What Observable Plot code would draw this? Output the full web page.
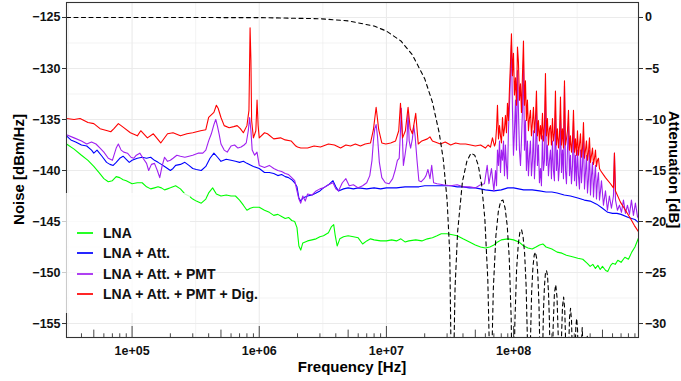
<!DOCTYPE html>
<html>
<head>
<meta charset="utf-8">
<script src="https://cdn.jsdelivr.net/npm/d3@7"></script>
<script src="https://cdn.jsdelivr.net/npm/@observablehq/plot@0.6"></script>
<style>
  body { margin: 0; background: #fff; }
  #chart { position: relative; width: 681px; height: 381px; font-family: "Liberation Sans", Arial, sans-serif; }
  #chart svg { position: absolute; left: 0; top: 0; }
  .legend-bg { position: absolute; left: 62px; top: 193px; width: 128px; height: 120px; background: rgba(255,255,255,0.75); }
  .legend { position: absolute; left: 62px; top: 193px; }
  .legend .row { position: absolute; left: 15px; height: 20px; line-height: 20px; font-size: 14px; font-weight: bold; color: #111; white-space: nowrap; }
  .legend .key { position: absolute; left: 0; top: 9px; width: 16px; height: 2px; opacity: 0.85; }
  .legend .lab { position: absolute; left: 26px; top: 0; }
</style>
</head>
<body>
<div id="chart"></div>
<script>
// Noise spectral density of the readout chain, [frequency Hz, dBm/Hz]
const lna = [[3.05e4,-137.4],[3.5e4,-137.9],[4e4,-138.5],[4.5e4,-139.0],[5e4,-139.6],[5.5e4,-140.2],[6e4,-140.8],[6.5e4,-141.1],[7e4,-141.0],[7.5e4,-140.6],[8e4,-140.7],[8.5e4,-140.9],[9e4,-141.0],[1e5,-141.3],[1.1e5,-141.2],[1.2e5,-141.2],[1.3e5,-141.6],[1.4e5,-141.8],[1.5e5,-141.7],[1.6e5,-141.6],[1.7e5,-141.7],[1.8e5,-141.9],[1.9e5,-141.8],[2e5,-141.7],[2.2e5,-141.5],[2.4e5,-141.8],[2.6e5,-142.3],[2.8e5,-142.5],[3e5,-142.8],[3.2e5,-143.0],[3.5e5,-143.2],[3.8e5,-142.8],[4e5,-142.2],[4.3e5,-141.7],[4.6e5,-142.3],[5e5,-142.5],[5.5e5,-142.4],[6e5,-142.5],[6.5e5,-142.5],[7e5,-142.9],[7.5e5,-143.4],[8e5,-143.9],[8.5e5,-143.7],[9e5,-143.6],[1e6,-143.6],[1.1e6,-143.9],[1.2e6,-144.1],[1.3e6,-144.4],[1.4e6,-144.3],[1.5e6,-144.5],[1.6e6,-144.7],[1.7e6,-144.6],[1.8e6,-144.9],[1.9e6,-145.0],[1.98e6,-145.6],[2.05e6,-147.4],[2.12e6,-147.8],[2.2e6,-147.1],[2.4e6,-146.9],[2.6e6,-146.8],[2.8e6,-146.7],[3e6,-146.5],[3.2e6,-146.4],[3.5e6,-146.1],[3.7e6,-145.5],[3.85e6,-145.3],[3.95e6,-146.3],[4.1e6,-147.4],[4.3e6,-146.7],[4.6e6,-146.5],[5e6,-146.4],[5.5e6,-146.5],[6e6,-146.6],[6.5e6,-147.2],[7e6,-146.9],[7.5e6,-146.7],[8e6,-146.8],[9e6,-146.9],[1e7,-146.9],[1.1e7,-146.8],[1.2e7,-146.9],[1.3e7,-146.7],[1.4e7,-147.0],[1.5e7,-146.9],[1.7e7,-146.8],[1.9e7,-146.9],[2.1e7,-146.7],[2.3e7,-146.6],[2.5e7,-146.4],[2.7e7,-146.2],[3e7,-146.2],[3.3e7,-146.3],[3.6e7,-146.4],[4e7,-146.7],[4.5e7,-147.0],[5e7,-147.3],[5.5e7,-147.5],[6e7,-147.6],[6.5e7,-147.5],[7e7,-147.3],[7.5e7,-147.0],[8e7,-146.8],[9e7,-146.7],[1e8,-146.8],[1.1e8,-147.0],[1.2e8,-147.4],[1.3e8,-147.6],[1.4e8,-147.7],[1.5e8,-147.5],[1.6e8,-147.3],[1.7e8,-147.2],[1.8e8,-147.5],[2e8,-147.7],[2.2e8,-148.0],[2.4e8,-148.1],[2.6e8,-148.3],[2.8e8,-148.4],[3e8,-148.5],[3.2e8,-148.6],[3.5e8,-148.7],[3.8e8,-149.1],[4e8,-149.4],[4.2e8,-149.2],[4.4e8,-149.6],[4.6e8,-149.3],[4.8e8,-149.7],[5e8,-149.4],[5.3e8,-149.8],[5.5e8,-149.9],[5.8e8,-149.3],[6e8,-149.1],[6.3e8,-149.2],[6.6e8,-148.8],[7e8,-149.0],[7.5e8,-148.5],[8e8,-148.7],[8.5e8,-148.0],[9e8,-147.5],[9.6e8,-146.6]];

const lnaAtt = [[3.05e4,-136.6],[3.3e4,-137.0],[3.6e4,-137.2],[4e4,-137.5],[4.4e4,-137.6],[4.8e4,-138.0],[5e4,-138.3],[5.3e4,-138.0],[5.8e4,-138.6],[6.3e4,-139.2],[6.7e4,-139.4],[7.1e4,-139.5],[7.5e4,-139.2],[8e4,-138.8],[8.5e4,-138.6],[9e4,-138.9],[9.5e4,-139.2],[1e5,-139.0],[1.1e5,-138.8],[1.2e5,-138.7],[1.3e5,-138.8],[1.4e5,-138.7],[1.5e5,-139.0],[1.6e5,-139.2],[1.7e5,-139.4],[1.8e5,-139.6],[1.9e5,-139.8],[2e5,-140.0],[2.1e5,-139.8],[2.2e5,-139.5],[2.4e5,-139.4],[2.6e5,-139.2],[2.8e5,-139.5],[3e5,-139.8],[3.2e5,-139.9],[3.5e5,-140.0],[3.8e5,-139.6],[4.1e5,-138.8],[4.4e5,-138.3],[4.7e5,-138.7],[5e5,-139.1],[5.5e5,-138.9],[6e5,-139.0],[6.5e5,-139.1],[7e5,-139.2],[7.5e5,-139.1],[8e5,-139.3],[9e5,-139.6],[1e6,-139.8],[1.1e6,-140.2],[1.2e6,-140.2],[1.3e6,-140.3],[1.4e6,-140.5],[1.5e6,-140.4],[1.6e6,-140.6],[1.7e6,-140.7],[1.8e6,-140.9],[1.9e6,-141.2],[1.98e6,-141.6],[2.05e6,-142.7],[2.12e6,-143.0],[2.2e6,-142.7],[2.4e6,-142.5],[2.6e6,-142.4],[2.8e6,-142.2],[3e6,-142.0],[3.2e6,-141.7],[3.5e6,-141.4],[3.8e6,-141.0],[4e6,-141.6],[4.2e6,-142.0],[4.6e6,-141.8],[5e6,-141.7],[5.5e6,-141.8],[6e6,-141.7],[7e6,-141.8],[8e6,-141.7],[9e6,-141.8],[1e7,-141.7],[1.2e7,-141.7],[1.4e7,-141.6],[1.6e7,-141.6],[1.8e7,-141.6],[2e7,-141.5],[2.4e7,-141.5],[2.8e7,-141.5],[3.2e7,-141.5],[3.6e7,-141.6],[4e7,-141.6],[4.5e7,-141.7],[5e7,-141.7],[6e7,-141.9],[7e7,-142.0],[8e7,-141.9],[9e7,-141.7],[1e8,-141.7],[1.2e8,-141.9],[1.4e8,-141.9],[1.6e8,-142.0],[1.8e8,-142.1],[2e8,-142.1],[2.2e8,-142.2],[2.5e8,-142.4],[2.8e8,-142.5],[3.2e8,-142.7],[3.6e8,-142.9],[4e8,-143.0],[4.5e8,-143.3],[5e8,-143.7],[5.5e8,-144.1],[6e8,-144.2],[6.5e8,-144.2],[7e8,-144.3],[8e8,-144.6],[9e8,-144.8],[9.6e8,-145.1]];

const lnaAttPmt = [[3.05e4,-136.5],[3.5e4,-136.8],[4e4,-137.1],[4.4e4,-137.4],[4.8e4,-137.2],[5.2e4,-137.4],[5.6e4,-137.8],[6e4,-138.2],[6.5e4,-138.8],[7e4,-139.0],[7.5e4,-137.8],[7.8e4,-137.4],[8.2e4,-138.0],[8.6e4,-138.2],[9.2e4,-138.3],[9.8e4,-138.7],[1.03e5,-138.8],[1.08e5,-138.5],[1.15e5,-138.3],[1.22e5,-138.8],[1.3e5,-139.3],[1.35e5,-140.0],[1.42e5,-139.4],[1.5e5,-139.3],[1.58e5,-140.0],[1.65e5,-140.7],[1.72e5,-139.6],[1.8e5,-138.7],[1.9e5,-139.1],[2e5,-139.0],[2.1e5,-138.8],[2.25e5,-138.5],[2.4e5,-138.6],[2.6e5,-138.7],[2.8e5,-138.6],[3e5,-138.5],[3.3e5,-138.3],[3.6e5,-138.3],[3.8e5,-138.0],[4e5,-137.1],[4.2e5,-136.4],[4.4e5,-135.5],[4.55e5,-135.0],[4.7e5,-135.7],[4.85e5,-136.5],[5e5,-137.4],[5.3e5,-138.0],[5.6e5,-138.2],[6e5,-137.6],[6.4e5,-137.5],[6.8e5,-137.8],[7.2e5,-137.7],[7.6e5,-137.5],[7.9e5,-137.3],[8.2e5,-136.1],[8.4e5,-134.8],[8.6e5,-136.1],[8.8e5,-138.0],[9.2e5,-138.5],[9.6e5,-138.2],[1e6,-139.5],[1.1e6,-139.7],[1.2e6,-139.5],[1.3e6,-139.8],[1.4e6,-140.0],[1.5e6,-140.1],[1.6e6,-140.3],[1.7e6,-140.4],[1.8e6,-140.7],[1.9e6,-141.0],[1.98e6,-142.0],[2.05e6,-142.8],[2.12e6,-143.2],[2.2e6,-142.5],[2.3e6,-143.0],[2.4e6,-142.3],[2.6e6,-142.4],[2.8e6,-142.0],[3e6,-141.8],[3.2e6,-141.7],[3.5e6,-141.4],[3.8e6,-141.2],[4e6,-141.8],[4.2e6,-142.0],[4.5e6,-141.2],[4.8e6,-140.8],[5.1e6,-141.5],[5.5e6,-141.4],[6e6,-141.7],[6.5e6,-141.5],[7e6,-141.2],[7.4e6,-140.5],[7.7e6,-139.0],[7.9e6,-137.1],[8.1e6,-135.9],[8.3e6,-135.5],[8.5e6,-136.6],[8.8e6,-139.2],[9.2e6,-140.7],[9.8e6,-141.2],[1.05e7,-141.3],[1.12e7,-140.8],[1.17e7,-140.0],[1.22e7,-139.0],[1.26e7,-138.8],[1.29e7,-136.1],[1.31e7,-133.9],[1.33e7,-136.1],[1.36e7,-139.5],[1.4e7,-138.5],[1.45e7,-137.1],[1.48e7,-134.3],[1.51e7,-137.1],[1.55e7,-137.8],[1.6e7,-136.9],[1.64e7,-135.6],[1.68e7,-136.6],[1.74e7,-139.0],[1.8e7,-141.0],[1.88e7,-141.1],[1.98e7,-140.8],[2.05e7,-140.5],[2.12e7,-139.9],[2.2e7,-140.8],[2.27e7,-139.5],[2.35e7,-141.2],[2.5e7,-141.3],[2.8e7,-141.4],[3.2e7,-141.5],[3.6e7,-141.4],[4e7,-141.6],[4.5e7,-141.6],[5e7,-141.7],[5.5e7,-141.4],[5.9e7,-141.3],[6.2e7,-139.5],[6.4e7,-141.3],[6.7e7,-139.8],[7e7,-142.0],
  [7.21e7,-140.0],[7.34e7,-141.5],[7.47e7,-138.0],[7.61e7,-139.5],[7.75e7,-137.1],[7.89e7,-140.2],[8.03e7,-138.0],[8.18e7,-139.0],[8.33e7,-137.1],[8.48e7,-140.5],[8.63e7,-137.5],[8.79e7,-139.5],[8.95e7,-140.8],[9.11e7,-136.1],[9.28e7,-133.6],[9.45e7,-130.7],[9.62e7,-127.7],[9.8e7,-134.1],[9.98e7,-138.5],[1.016e8,-136.1],[1.035e8,-133.1],[1.054e8,-138.0],[1.073e8,-130.2],[1.092e8,-134.1],[1.112e8,-138.0],[1.133e8,-139.5],[1.153e8,-137.1],[1.174e8,-134.1],[1.196e8,-129.2],[1.218e8,-138.0],[1.24e8,-135.1],[1.262e8,-140.0],[1.285e8,-137.1],[1.309e8,-140.5],[1.333e8,-138.5],[1.357e8,-137.1],[1.382e8,-140.5],[1.407e8,-139.0],[1.433e8,-136.1],[1.459e8,-140.8],[1.486e8,-138.5],[1.513e8,-134.1],[1.54e8,-139.5],[1.569e8,-137.5],[1.597e8,-141.2],[1.627e8,-139.8],[1.656e8,-141.5],[1.687e8,-136.6],[1.717e8,-140.0],[1.749e8,-139.0],[1.781e8,-132.6],[1.813e8,-139.5],[1.846e8,-137.5],[1.88e8,-140.5],[1.915e8,-139.0],[1.95e8,-138.0],[1.985e8,-140.8],[2.022e8,-137.1],[2.058e8,-140.0],[2.096e8,-141.0],[2.134e8,-134.1],[2.173e8,-140.0],[2.213e8,-138.0],[2.254e8,-141.0],[2.295e8,-139.5],[2.337e8,-134.6],[2.38e8,-140.2],[2.423e8,-138.0],[2.468e8,-140.8],[2.513e8,-131.7],[2.559e8,-140.0],[2.605e8,-141.3],[2.653e8,-138.0],[2.702e8,-135.6],[2.751e8,-140.5],[2.801e8,-138.5],[2.852e8,-141.3],[2.905e8,-139.5],[2.958e8,-135.1],[3.012e8,-141.0],[3.067e8,-138.5],[3.123e8,-141.5],[3.18e8,-138.0],[3.238e8,-140.5],[3.297e8,-141.8],[3.358e8,-138.0],[3.419e8,-141.2],[3.482e8,-139.5],[3.545e8,-136.6],[3.61e8,-141.8],[3.676e8,-140.2],[3.743e8,-138.5],[3.812e8,-142.2],[3.881e8,-140.8],[3.952e8,-138.0],[4.025e8,-142.4],[4.099e8,-140.5],[4.174e8,-139.2],[4.249e8,-142.6],[4.327e8,-140.8],[4.406e8,-139.5],[4.486e8,-142.8],[4.568e8,-141.0],[4.651e8,-140.2],[4.737e8,-142.9],[4.824e8,-142.0],[4.91e8,-141.0],[5.09e8,-143.4],[5.28e8,-142.0],[5.47e8,-143.9],[5.67e8,-142.5],[5.88e8,-143.7],[6.1e8,-142.5],[6.21e8,-138.3],[6.33e8,-142.9],[6.56e8,-143.9],[6.8e8,-143.4],[7.05e8,-144.1],[7.31e8,-142.9],[7.58e8,-144.2],[7.86e8,-143.4],[8.15e8,-144.3],[8.45e8,-142.9],[8.76e8,-144.4],[9.08e8,-143.2],[9.42e8,-144.5],[9.6e8,-144.7]];

const lnaAttPmtDig = [[3.05e4,-134.9],[3.5e4,-135.0],[3.9e4,-134.9],[4.5e4,-135.3],[5e4,-135.4],[5.6e4,-135.9],[6.4e4,-136.1],[6.8e4,-136.2],[7.2e4,-135.9],[7.8e4,-135.4],[8.6e4,-135.8],[9.7e4,-136.3],[1.1e5,-136.6],[1.17e5,-136.1],[1.32e5,-136.8],[1.47e5,-136.4],[1.68e5,-137.3],[1.9e5,-136.4],[2.1e5,-136.3],[2.4e5,-136.6],[2.7e5,-136.4],[3e5,-136.3],[3.46e5,-136.1],[3.8e5,-136.0],[4e5,-134.8],[4.4e5,-134.3],[4.6e5,-133.6],[4.75e5,-133.9],[5e5,-134.8],[5.3e5,-135.6],[5.8e5,-135.8],[6.3e5,-135.7],[6.7e5,-135.6],[7.1e5,-135.9],[7.5e5,-136.3],[8e5,-135.6],[8.3e5,-134.1],[8.47e5,-126.0],[8.6e5,-129.2],[8.71e5,-135.1],[9e5,-136.8],[9.4e5,-136.1],[9.61e5,-133.1],[9.8e5,-135.6],[1e6,-136.8],[1.1e6,-136.3],[1.16e6,-136.4],[1.3e6,-136.9],[1.47e6,-136.8],[1.6e6,-137.0],[1.78e6,-137.1],[1.94e6,-137.6],[2e6,-137.7],[2.12e6,-137.8],[2.4e6,-137.8],[2.7e6,-137.6],[3.03e6,-137.7],[3.5e6,-137.4],[3.9e6,-137.5],[4.36e6,-137.8],[4.8e6,-137.5],[5.22e6,-137.6],[5.7e6,-137.4],[6.25e6,-137.6],[6.8e6,-137.4],[7.5e6,-137.3],[7.9e6,-136.0],[8.3e6,-133.8],[8.7e6,-136.0],[9.2e6,-137.3],[9.9e6,-137.4],[1.08e7,-137.3],[1.18e7,-137.1],[1.25e7,-136.1],[1.29e7,-133.4],[1.34e7,-136.8],[1.41e7,-136.1],[1.48e7,-133.8],[1.54e7,-135.9],[1.6e7,-136.4],[1.7e7,-134.4],[1.78e7,-137.4],[1.9e7,-137.1],[2.1e7,-136.9],[2.2e7,-136.7],[2.3e7,-137.1],[2.66e7,-137.4],[2.9e7,-137.2],[3.2e7,-137.5],[3.5e7,-137.3],[3.8e7,-137.4],[4.2e7,-137.4],[4.6e7,-137.5],[5e7,-137.6],[5.5e7,-137.5],[6e7,-137.8],[6.3e7,-137.5],[6.58e7,-137.7],[6.82e7,-136.8],[7.08e7,-137.6],
  [7.21e7,-137.3],[7.34e7,-135.9],[7.47e7,-133.6],[7.61e7,-136.9],[7.75e7,-135.6],[7.89e7,-136.6],[8.03e7,-137.3],[8.18e7,-134.8],[8.33e7,-136.6],[8.48e7,-135.9],[8.63e7,-134.6],[8.79e7,-136.3],[8.95e7,-133.4],[9.11e7,-135.1],[9.28e7,-132.0],[9.45e7,-129.5],[9.62e7,-126.6],[9.8e7,-130.7],[9.98e7,-128.5],[1.016e8,-132.6],[1.035e8,-130.9],[1.054e8,-133.6],[1.073e8,-127.9],[1.092e8,-129.4],[1.112e8,-133.1],[1.133e8,-131.5],[1.153e8,-134.3],[1.174e8,-130.7],[1.196e8,-127.3],[1.218e8,-133.6],[1.24e8,-131.2],[1.262e8,-135.1],[1.285e8,-133.1],[1.309e8,-136.1],[1.333e8,-134.9],[1.357e8,-134.1],[1.382e8,-136.6],[1.407e8,-135.3],[1.433e8,-133.8],[1.459e8,-136.3],[1.486e8,-134.9],[1.513e8,-132.2],[1.54e8,-136.6],[1.569e8,-135.1],[1.597e8,-137.1],[1.627e8,-135.6],[1.656e8,-136.9],[1.687e8,-134.4],[1.717e8,-137.1],[1.749e8,-135.6],[1.781e8,-130.5],[1.813e8,-136.6],[1.846e8,-134.9],[1.88e8,-137.5],[1.915e8,-135.9],[1.95e8,-135.6],[1.985e8,-137.5],[2.022e8,-134.9],[2.058e8,-137.1],[2.096e8,-136.3],[2.134e8,-132.2],[2.173e8,-137.5],[2.213e8,-135.9],[2.254e8,-137.8],[2.295e8,-136.6],[2.337e8,-132.8],[2.38e8,-137.5],[2.423e8,-135.9],[2.468e8,-137.8],[2.513e8,-131.2],[2.559e8,-137.5],[2.605e8,-136.9],[2.653e8,-136.1],[2.702e8,-134.1],[2.751e8,-138.0],[2.801e8,-136.6],[2.852e8,-138.2],[2.905e8,-137.1],[2.958e8,-134.1],[3.012e8,-138.2],[3.067e8,-136.9],[3.123e8,-138.5],[3.18e8,-136.1],[3.238e8,-138.5],[3.297e8,-137.5],[3.358e8,-136.4],[3.419e8,-138.7],[3.482e8,-137.8],[3.545e8,-135.3],[3.61e8,-138.8],[3.676e8,-138.0],[3.743e8,-137.1],[3.812e8,-139.0],[3.881e8,-138.2],[3.952e8,-136.8],[4.025e8,-139.2],[4.099e8,-138.5],[4.174e8,-137.8],[4.249e8,-139.4],[4.327e8,-138.8],[4.406e8,-138.0],[4.486e8,-139.6],[4.568e8,-139.0],[4.651e8,-138.8],[4.737e8,-139.8],[4.824e8,-140.0],[5.28e8,-140.7],[5.78e8,-141.3],[6.1e8,-141.7],[6.21e8,-138.3],[6.33e8,-142.0],[6.92e8,-143.1],[7.58e8,-143.9],[8.3e8,-144.7],[8.92e8,-145.4],[9.6e8,-146.0]];

// Digitizer filter response, [frequency Hz, attenuation dB]; nulls fall below the axis
const filterResponse = [[3.05e4,0],[1e6,-0.01],[3e6,-0.12],[5e6,-0.33],[8e6,-0.84],[1e7,-1.33],[1.3e7,-2.3],[1.6e7,-3.66],[2e7,-6.0],[2.3e7,-8.3],[2.6e7,-11.3],[2.8e7,-13.9],[3e7,-17.9],[3.15e7,-23.2],[3.25e7,-36.4],[3.3e7,-60],
  [3.35e7,-36.6],[3.465e7,-26.5],[3.63e7,-21.0],[3.96e7,-16.1],[4.29e7,-14.1],[4.62e7,-13.3],[4.95e7,-13.5],[5.28e7,-14.5],[5.61e7,-16.4],[5.94e7,-19.7],[6.27e7,-25.7],[6.435e7,-31.9],[6.55e7,-42.4],[6.6e7,-60],
  [6.65e7,-42.6],[6.765e7,-32.3],[6.93e7,-26.6],[7.26e7,-21.4],[7.59e7,-19.0],[7.92e7,-18.0],[8.25e7,-17.9],[8.58e7,-18.7],[8.91e7,-20.4],[9.24e7,-23.5],[9.57e7,-29.4],[9.735e7,-35.5],[9.9e7,-60],
  [1.0065e8,-35.7],[1.023e8,-30.0],[1.056e8,-24.7],[1.089e8,-22.2],[1.122e8,-21.0],[1.155e8,-20.8],[1.188e8,-21.5],[1.221e8,-23.1],[1.254e8,-26.2],[1.287e8,-32.0],[1.32e8,-60],
  [1.353e8,-32.4],[1.386e8,-27.0],[1.419e8,-24.5],[1.452e8,-23.3],[1.485e8,-23.0],[1.518e8,-23.6],[1.551e8,-25.2],[1.584e8,-28.2],[1.617e8,-33.9],[1.65e8,-60],
  [1.683e8,-34.3],[1.716e8,-28.9],[1.749e8,-26.3],[1.782e8,-25.0],[1.815e8,-24.8],[1.848e8,-25.3],[1.881e8,-26.9],[1.914e8,-29.8],[1.947e8,-35.6],[1.98e8,-60],
  [2.013e8,-35.9],[2.046e8,-30.4],[2.0955e8,-27.0],[2.145e8,-26.2],[2.1945e8,-27.4],[2.244e8,-31.2],[2.277e8,-36.9],[2.31e8,-60],
  [2.343e8,-37.2],[2.376e8,-31.7],[2.4255e8,-28.3],[2.475e8,-27.4],[2.5245e8,-28.6],[2.574e8,-32.4],[2.64e8,-60],
  [2.706e8,-32.8],[2.7555e8,-29.4],[2.805e8,-28.5],[2.8545e8,-29.7],[2.904e8,-33.4],[2.97e8,-60],
  [3.036e8,-33.8],[3.0855e8,-30.4],[3.135e8,-29.5],[3.1845e8,-30.6],[3.234e8,-34.4],[3.3e8,-60],
  [3.3825e8,-33.2],[3.465e8,-30.4],[3.5475e8,-33.6],[3.63e8,-60],
  [3.7125e8,-34.0],[3.795e8,-31.2],[3.8775e8,-34.4],[3.96e8,-60]];

const seriesNames = ["LNA", "LNA + Att.", "LNA + Att. + PMT", "LNA + Att. + PMT + Dig."];
const seriesColors = ["#00ff00", "#0000ff", "#a020f0", "#ff0000"];
const seriesData = [lna, lnaAtt, lnaAttPmt, lnaAttPmtDig];

const freqTicks = [1e5, 1e6, 1e7, 1e8];
const freqTickLabels = ["1e+05", "1e+06", "1e+07", "1e+08"];
const freqMinorGrid = [3.162e4, 3.162e5, 3.162e6, 3.162e7, 3.162e8];
const noiseTicks = [-125, -130, -135, -140, -145, -150, -155];
const noiseMinorGrid = [-127.5, -132.5, -137.5, -142.5, -147.5, -152.5];
const attTicks = [0, -5, -10, -15, -20, -25, -30];

// layout
const W = 681, H = 381;
const M = {top: 2, right: 43, bottom: 44, left: 66};
const xDomain = [3.05e4, 9.6e8];
const yDomain = [-156.37, -123.53];
const attOffset = -125; // 0 dB attenuation sits on the -125 dBm/Hz line
const minus = d => (d < 0 ? "\u2212" : "") + Math.abs(d);

// log ticks along the bottom edge (short / mid / long)
const decades = [1e4, 1e5, 1e6, 1e7, 1e8];
const inX = f => f > xDomain[0] && f < xDomain[1];
const shortTicks = decades.flatMap(d => [2, 3, 4, 6, 7, 8, 9].map(m => m * d)).filter(inX);
const midTicks = decades.map(d => 5 * d).filter(inX);
const longTicks = freqTicks;
const pxToY = (yDomain[1] - yDomain[0]) / (H - M.top - M.bottom);
const logRule = (vals, len) => Plot.ruleX(vals, {y1: yDomain[0], y2: yDomain[0] + len * pxToY, stroke: "#333", strokeWidth: 0.9});

const labelOf = new Map(freqTicks.map((t, i) => [t, freqTickLabels[i]]));

const plot = Plot.plot({
  width: W, height: H,
  marginTop: M.top, marginRight: M.right, marginBottom: M.bottom, marginLeft: M.left,
  x: {type: "log", domain: xDomain},
  y: {domain: yDomain},
  style: {fontFamily: "Liberation Sans, Arial, sans-serif", fontSize: "12.5px", fontWeight: "bold", color: "#111", background: "#fff"},
  marks: [
    Plot.gridY(noiseMinorGrid, {stroke: "#ebebeb", strokeOpacity: 1, strokeWidth: 0.6}),
    Plot.gridX(freqMinorGrid, {stroke: "#ebebeb", strokeOpacity: 1, strokeWidth: 0.6}),
    Plot.gridY(noiseTicks, {stroke: "#ebebeb", strokeOpacity: 1, strokeWidth: 1.1}),
    Plot.gridX(freqTicks, {stroke: "#ebebeb", strokeOpacity: 1, strokeWidth: 1.1}),
    ...seriesData.map((s, i) => Plot.line(s, {x: d => d[0], y: d => d[1], stroke: seriesColors[i], strokeWidth: 1.1, clip: true})),
    Plot.line(filterResponse, {x: d => d[0], y: d => d[1] + attOffset, stroke: "#000", strokeWidth: 1.1, strokeDasharray: "4,3.5", clip: true}),
    logRule(shortTicks, 3.7),
    logRule(midTicks, 7.4),
    logRule(longTicks, 11),
    Plot.frame({stroke: "#333", strokeWidth: 1.1}),
    Plot.axisY(noiseTicks, {anchor: "left", tickSize: 4, tickPadding: 2, stroke: "#333", tickFormat: minus, label: null}),
    Plot.axisY(attTicks.map(a => a + attOffset), {anchor: "right", tickSize: 4, tickPadding: 2.5, stroke: "#333", tickFormat: d => minus(d - attOffset), label: null}),
    Plot.axisX(freqTicks, {anchor: "bottom", tickSize: 0, tickPadding: 9, tickFormat: d => labelOf.get(d), label: null})
  ]
});

const chart = document.getElementById("chart");
chart.appendChild(plot);

// axis titles
const svg = d3.select(plot);
const title = (txt, x, y, rot) => svg.append("text")
  .attr("x", x).attr("y", y)
  .attr("transform", rot ? `rotate(${rot},${x},${y})` : null)
  .attr("text-anchor", "middle")
  .attr("fill", "#000")
  .style("font", "bold 15px 'Liberation Sans', Arial, sans-serif")
  .text(txt);
title("Noise [dBm/Hz]", 23.5, 169.5, -90);
title("Attenuation [dB]", 668.5, 169.5, 90);
title("Frequency [Hz]", 352, 372, 0);

// legend inside the panel
d3.select(chart).append("div").attr("class", "legend-bg");
const legend = d3.select(chart).append("div").attr("class", "legend");
seriesNames.forEach((name, i) => {
  const row = legend.append("div").attr("class", "row").style("top", Math.round(29.7 + i * 20.4) + "px");
  row.append("div").attr("class", "key").style("background", seriesColors[i]);
  row.append("span").attr("class", "lab").text(name);
});
</script>
</body>
</html>
